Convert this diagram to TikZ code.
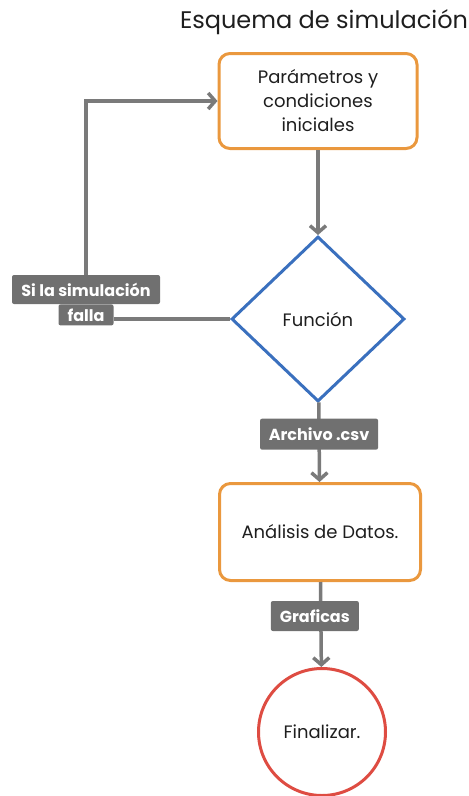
\documentclass[tikz,border=0pt]{standalone}
\usepackage{fontspec}
\setmainfont{Poppins}
\usetikzlibrary{shapes.geometric, arrows.meta, positioning}
\usepackage{xcolor}
\definecolor{boxorange}{RGB}{234, 152, 62}
\definecolor{funcblue}{RGB}{58, 112, 190}
\definecolor{endred}{RGB}{222, 76, 66}
\definecolor{linegray}{RGB}{122, 122, 122}
\definecolor{taggray}{RGB}{112, 112, 112}
\definecolor{textdark}{RGB}{30, 30, 30}

\begin{document}
\begin{tikzpicture}[
    x=1pt, y=-1pt,
    step box/.style={rectangle, draw=boxorange, rounded corners=11pt, line width=3pt, align=center, font=\fontsize{18}{24}\selectfont, text=textdark},
    tag/.style={rectangle, fill=taggray, rounded corners=2pt, inner sep=0pt, font=\fontsize{16}{18}\selectfont\bfseries, text=white},
    arrow/.style={-{Straight Barb[length=7pt, width=16pt]}, line width=3.5pt, color=linegray},
    link/.style={line width=3.5pt, color=linegray},
]
\useasboundingbox (0,0) rectangle (469,796);

% Title
\node[font=\fontsize{24}{28}\selectfont, text=textdark] (title) at (324, 22) {Esquema de simulación};

% Parameters
\node[step box, minimum width=198pt, minimum height=95pt] (params) at (318, 101) {Parámetros y\\condiciones\\iniciales};

% Function
\node[diamond, draw=funcblue, line width=3pt, inner sep=0pt, minimum width=173pt, minimum height=165pt, font=\fontsize{18}{22}\selectfont, text=textdark] (func) at (318, 319) {Función};

% Failure loop
\node[tag, minimum width=148pt, minimum height=29pt] (fail) at (86, 289.5) {Si la simulación};
\node[tag, minimum width=55pt, minimum height=21pt, anchor=north] (failb) at (fail.south) {falla};

% Analysis
\node[step box, minimum width=201pt, minimum height=97pt] (analysis) at (320, 532) {Análisis de Datos.};

% End
\node[circle, draw=endred, line width=3pt, minimum size=127pt, inner sep=0pt, font=\fontsize{18}{22}\selectfont, text=textdark] (finish) at (322, 732) {Finalizar.};

\draw[arrow] (params) -- (func);
\draw[link] (func.west) -- (failb.east |- func.west);
\draw[arrow] (fail.north) |- (params.west);
\draw[arrow] (func) -- node[tag, pos=0.4, minimum width=118pt, minimum height=31pt] (csv) {Archivo .csv} (analysis);
\draw[arrow] (analysis) -- node[tag, pos=0.4, minimum width=88pt, minimum height=30pt, xshift=-6pt] (plots) {Graficas} (finish);

\end{tikzpicture}
\end{document}
